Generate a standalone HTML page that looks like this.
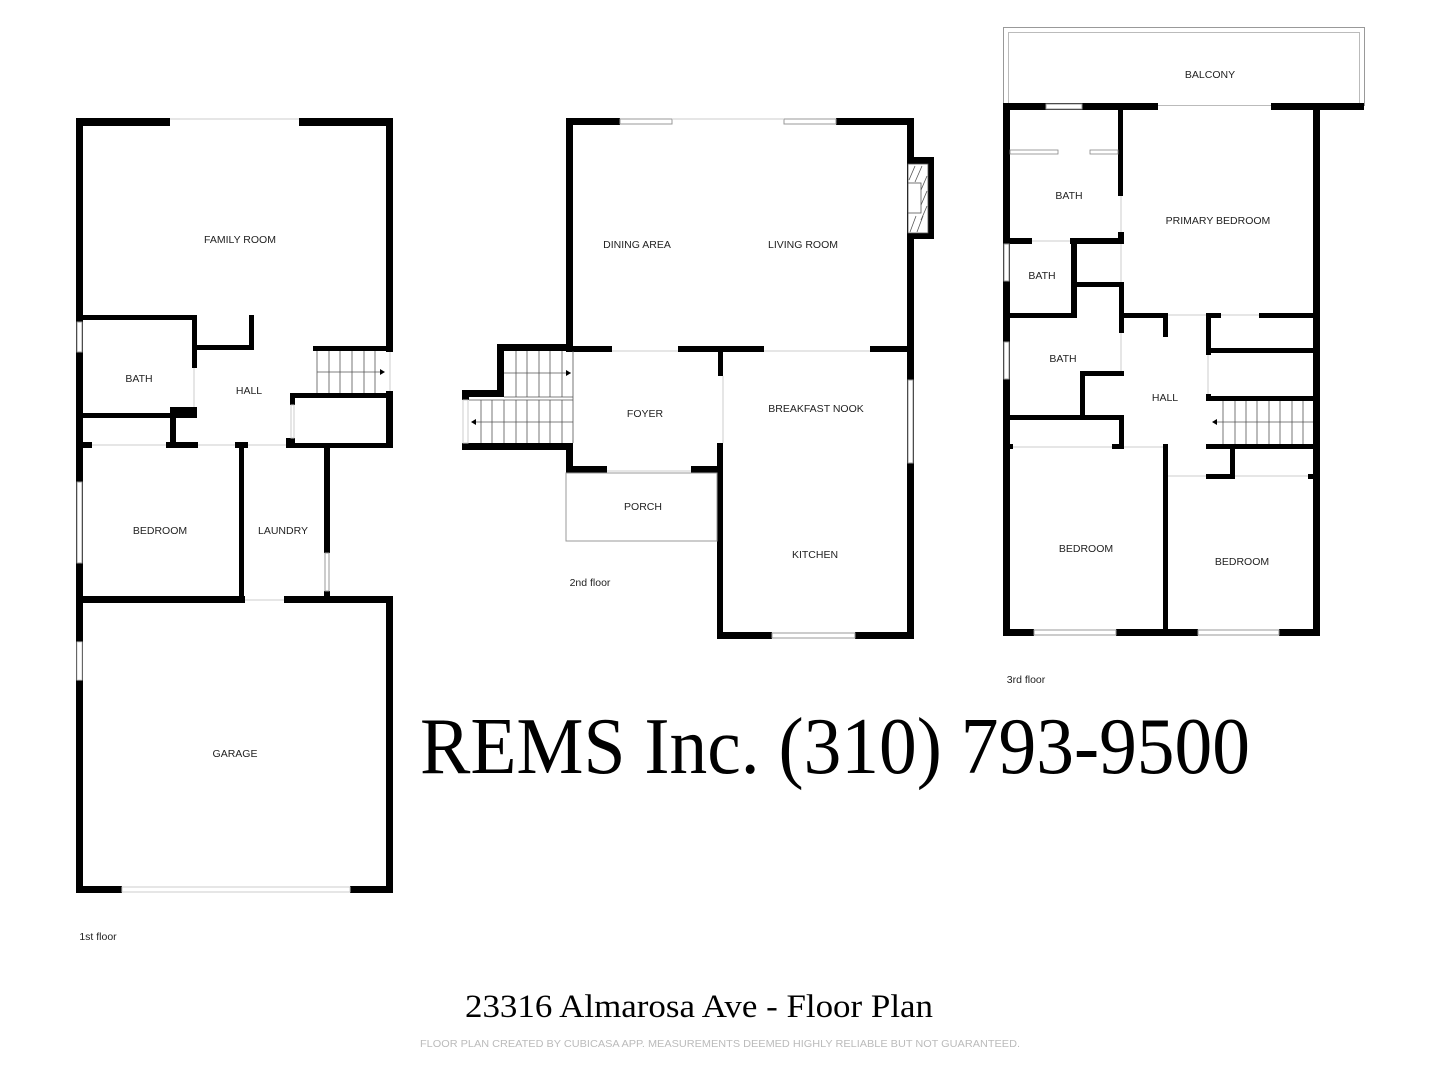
<!DOCTYPE html>
<html><head><meta charset="utf-8"><style>
html,body{margin:0;padding:0;background:#fff;}
svg{display:block;}
.l{font-family:"Liberation Sans",sans-serif;font-size:10.5px;fill:#222;text-anchor:middle;}
.w{fill:#000;}
.t{fill:none;stroke:#ccc;stroke-width:1;}
.win{fill:#fff;stroke:#999;stroke-width:1;}
.st{stroke:#555;stroke-width:0.8;}
</style></head><body>
<svg width="1440" height="1080" viewBox="0 0 1440 1080" xmlns="http://www.w3.org/2000/svg">
<!-- ========== FLOOR 1 ========== -->
<g class="w">
<rect x="76" y="118" width="94" height="8"/>
<rect x="299" y="118" width="94" height="8"/>
<rect x="76" y="118" width="7" height="775"/>
<rect x="386" y="118" width="7" height="234"/>
<rect x="386" y="391" width="7" height="57"/>
<rect x="76" y="315" width="121" height="5"/>
<rect x="192" y="315" width="5" height="53"/>
<rect x="170" y="407" width="27" height="11"/>
<rect x="197" y="345" width="57" height="5"/>
<rect x="249" y="315" width="5" height="35"/>
<rect x="313" y="346" width="80" height="5"/>
<rect x="290" y="393" width="103" height="5"/>
<rect x="290" y="393" width="5" height="12"/>
<rect x="286" y="438" width="9" height="10"/>
<rect x="286" y="443" width="107" height="5"/>
<rect x="76" y="413" width="99" height="5"/>
<rect x="170" y="413" width="6" height="30"/>
<rect x="76" y="442" width="16" height="6"/>
<rect x="166" y="442" width="32" height="6"/>
<rect x="235" y="442" width="13" height="6"/>
<rect x="239" y="443" width="5" height="157"/>
<rect x="324" y="443" width="6" height="110"/>
<rect x="324" y="591" width="6" height="9"/>
<rect x="76" y="596" width="169" height="7"/>
<rect x="284" y="596" width="109" height="7"/>
<rect x="386" y="596" width="7" height="297"/>
<rect x="76" y="886" width="46" height="7"/>
<rect x="350" y="886" width="43" height="7"/>
</g>
<g>
<line x1="170" y1="119" x2="299" y2="119" class="t"/>
<rect x="77" y="322" width="5" height="30" class="win"/>
<rect x="77" y="482" width="5" height="81" class="win"/>
<rect x="325" y="553" width="4" height="38" class="win"/>
<rect x="77" y="642" width="5" height="38" fill="#fff" stroke="#ccc"/>
<rect x="122" y="887" width="228" height="5" fill="#fff" stroke="#ccc"/>
<line x1="245" y1="600" x2="284" y2="600" class="t"/>
<line x1="194" y1="368" x2="194" y2="407" class="t"/>
<line x1="92" y1="445" x2="166" y2="445" class="t"/>
<line x1="198" y1="445" x2="235" y2="445" class="t"/>
<line x1="248" y1="445" x2="286" y2="445" class="t"/>
<rect x="291" y="405" width="3" height="33" fill="#fff" stroke="#ccc"/>
<line x1="390" y1="352" x2="390" y2="391" stroke="#ccc"/>
<!-- stairs 1 -->
<g class="st">
<line x1="317" y1="351" x2="317" y2="393"/><line x1="329" y1="351" x2="329" y2="393"/><line x1="340" y1="351" x2="340" y2="393"/><line x1="352" y1="351" x2="352" y2="393"/><line x1="364" y1="351" x2="364" y2="393"/><line x1="375" y1="351" x2="375" y2="393"/>
<line x1="317" y1="372" x2="384" y2="372"/>
</g>
<polygon points="380,369 385,372 380,375" fill="#000"/>
</g>
<text class="l" x="240" y="243">FAMILY ROOM</text>
<text class="l" x="139" y="382">BATH</text>
<text class="l" x="249" y="394">HALL</text>
<text class="l" x="160" y="534">BEDROOM</text>
<text class="l" x="283" y="534">LAUNDRY</text>
<text class="l" x="235" y="757">GARAGE</text>
<text class="l" x="98" y="940">1st floor</text>

<!-- ========== FLOOR 2 ========== -->
<g class="w">
<rect x="566" y="118" width="54" height="7"/>
<rect x="836" y="118" width="78" height="7"/>
<rect x="907" y="118" width="7" height="521"/>
<rect x="907" y="157" width="27" height="7"/>
<rect x="928" y="157" width="6" height="82"/>
<rect x="907" y="233" width="27" height="6"/>
<rect x="717" y="632" width="55" height="7"/>
<rect x="855" y="632" width="59" height="7"/>
<rect x="566" y="118" width="7" height="233"/>
<rect x="566" y="346" width="46" height="6"/>
<rect x="678" y="346" width="86" height="6"/>
<rect x="870" y="346" width="44" height="6"/>
<rect x="718" y="352" width="5" height="24"/>
<rect x="717" y="443" width="6" height="196"/>
<rect x="566" y="466" width="41" height="7"/>
<rect x="691" y="466" width="32" height="7"/>
<rect x="566" y="443" width="7" height="30"/>
<rect x="497" y="344" width="76" height="7"/>
<rect x="497" y="344" width="7" height="53"/>
<rect x="462" y="390" width="42" height="7"/>
<rect x="462" y="390" width="7" height="10"/>
<rect x="462" y="443" width="111" height="7"/>
<rect x="462" y="448" width="7" height="2"/>
</g>
<g>
<rect x="620" y="119" width="52" height="5" class="win"/>
<rect x="784" y="119" width="52" height="5" class="win"/>
<line x1="672" y1="119" x2="784" y2="119" class="t"/>
<rect x="908" y="380" width="5" height="83" class="win"/>
<rect x="772" y="633" width="83" height="5" class="win"/>
<line x1="612" y1="351" x2="678" y2="351" class="t"/>
<line x1="764" y1="351" x2="870" y2="351" class="t"/>
<line x1="723" y1="376" x2="723" y2="443" class="t"/>
<line x1="607" y1="471" x2="691" y2="471" class="t"/>
<rect x="566" y="473" width="151" height="68" fill="none" stroke="#999" stroke-width="1"/>
<rect x="463" y="400" width="5" height="43" fill="#fff" stroke="#ccc"/>
<!-- fireplace -->
<rect x="908" y="164" width="20" height="69" fill="#fff" stroke="#555" stroke-width="0.8"/>
<rect x="908" y="183" width="13" height="30" fill="#fff" stroke="#555" stroke-width="0.8"/>
<g stroke="#555" stroke-width="0.8">
<line x1="909" y1="180" x2="915" y2="166"/><line x1="915" y1="182" x2="922" y2="166"/><line x1="921" y1="190" x2="927" y2="176"/><line x1="921" y1="205" x2="927" y2="191"/><line x1="921" y1="220" x2="927" y2="206"/><line x1="910" y1="232" x2="916" y2="216"/><line x1="917" y1="232" x2="923" y2="216"/>
</g>
<!-- stairs 2 -->
<g class="st">
<line x1="516" y1="351" x2="516" y2="397"/><line x1="527" y1="351" x2="527" y2="397"/><line x1="539" y1="351" x2="539" y2="397"/><line x1="550" y1="351" x2="550" y2="397"/><line x1="562" y1="351" x2="562" y2="397"/><line x1="573" y1="351" x2="573" y2="443"/>
<line x1="504" y1="373" x2="571" y2="373"/>
<line x1="504" y1="397" x2="573" y2="397"/><line x1="469" y1="400" x2="573" y2="400"/>
<line x1="481" y1="400" x2="481" y2="443"/><line x1="492" y1="400" x2="492" y2="443"/><line x1="504" y1="400" x2="504" y2="443"/><line x1="516" y1="400" x2="516" y2="443"/><line x1="527" y1="400" x2="527" y2="443"/><line x1="539" y1="400" x2="539" y2="443"/><line x1="550" y1="400" x2="550" y2="443"/><line x1="562" y1="400" x2="562" y2="443"/>
<line x1="472" y1="422" x2="573" y2="422"/>
</g>
<polygon points="566,370 571,373 566,376" fill="#000"/>
<polygon points="476,419 471,422 476,425" fill="#000"/>
</g>
<text class="l" x="637" y="248">DINING AREA</text>
<text class="l" x="803" y="248">LIVING ROOM</text>
<text class="l" x="645" y="417">FOYER</text>
<text class="l" x="816" y="412">BREAKFAST NOOK</text>
<text class="l" x="643" y="510">PORCH</text>
<text class="l" x="815" y="558">KITCHEN</text>
<text class="l" x="590" y="586">2nd floor</text>

<!-- ========== FLOOR 3 ========== -->
<rect x="1003.5" y="27.5" width="361" height="78" fill="none" stroke="#999"/>
<rect x="1008.5" y="32.5" width="351" height="73" fill="none" stroke="#bbb"/>
<g class="w">
<rect x="1003" y="103" width="155" height="7"/>
<rect x="1271" y="103" width="93" height="7"/>
<rect x="1003" y="103" width="7" height="533"/>
<rect x="1313" y="103" width="7" height="533"/>
<rect x="1003" y="629" width="31" height="7"/>
<rect x="1116" y="629" width="82" height="7"/>
<rect x="1279" y="629" width="41" height="7"/>
<rect x="1118" y="103" width="5" height="93"/>
<rect x="1118" y="232" width="6" height="12"/>
<rect x="1003" y="238" width="29" height="6"/>
<rect x="1070" y="238" width="54" height="6"/>
<rect x="1071" y="238" width="6" height="80"/>
<rect x="1071" y="282" width="53" height="5"/>
<rect x="1003" y="313" width="74" height="5"/>
<rect x="1119" y="282" width="5" height="51"/>
<rect x="1119" y="313" width="48" height="5"/>
<rect x="1163" y="313" width="5" height="24"/>
<rect x="1080" y="371" width="44" height="5"/>
<rect x="1080" y="371" width="5" height="44"/>
<rect x="1003" y="415" width="121" height="5"/>
<rect x="1119" y="415" width="5" height="33"/>
<rect x="1003" y="444" width="10" height="5"/>
<rect x="1112" y="444" width="12" height="5"/>
<rect x="1163" y="444" width="5" height="192"/>
<rect x="1206" y="313" width="5" height="42"/>
<rect x="1206" y="313" width="15" height="5"/>
<rect x="1259" y="313" width="61" height="5"/>
<rect x="1206" y="348" width="114" height="5"/>
<rect x="1206" y="394" width="5" height="7"/>
<rect x="1206" y="396" width="114" height="5"/>
<rect x="1206" y="444" width="114" height="5"/>
<rect x="1230" y="444" width="5" height="34"/>
<rect x="1206" y="474" width="29" height="5"/>
<rect x="1308" y="474" width="12" height="5"/>
</g>
<g>
<rect x="1046" y="104" width="36" height="5" class="win"/>
<rect x="1004" y="244" width="5" height="37" class="win"/>
<rect x="1004" y="342" width="5" height="37" class="win"/>
<rect x="1034" y="630" width="82" height="5" class="win"/>
<rect x="1198" y="630" width="81" height="5" class="win"/>
<rect x="1010" y="150" width="48" height="4" fill="#fff" stroke="#888" stroke-width="0.8"/>
<rect x="1090" y="150" width="28" height="4" fill="#fff" stroke="#888" stroke-width="0.8"/>
<line x1="1121" y1="196" x2="1121" y2="232" class="t"/>
<line x1="1121" y1="244" x2="1121" y2="282" class="t"/>
<line x1="1121" y1="333" x2="1121" y2="371" class="t"/>
<line x1="1032" y1="241" x2="1070" y2="241" class="t"/>
<line x1="1013" y1="447" x2="1112" y2="447" class="t"/>
<line x1="1124" y1="447" x2="1163" y2="447" class="t"/>
<line x1="1168" y1="315" x2="1206" y2="315" class="t"/>
<line x1="1221" y1="315" x2="1259" y2="315" class="t"/>
<line x1="1208" y1="355" x2="1208" y2="394" class="t"/>
<line x1="1168" y1="476" x2="1206" y2="476" class="t"/>
<line x1="1235" y1="476" x2="1308" y2="476" class="t"/>
<g class="st">
<line x1="1223" y1="401" x2="1223" y2="444"/><line x1="1235" y1="401" x2="1235" y2="444"/><line x1="1246" y1="401" x2="1246" y2="444"/><line x1="1257" y1="401" x2="1257" y2="444"/><line x1="1269" y1="401" x2="1269" y2="444"/><line x1="1280" y1="401" x2="1280" y2="444"/><line x1="1292" y1="401" x2="1292" y2="444"/><line x1="1303" y1="401" x2="1303" y2="444"/>
<line x1="1216" y1="422" x2="1313" y2="422"/>
</g>
<polygon points="1217,419 1212,422 1217,425" fill="#000"/>
</g>
<text class="l" x="1210" y="78">BALCONY</text>
<text class="l" x="1069" y="199">BATH</text>
<text class="l" x="1218" y="224">PRIMARY BEDROOM</text>
<text class="l" x="1042" y="279">BATH</text>
<text class="l" x="1063" y="362">BATH</text>
<text class="l" x="1165" y="401">HALL</text>
<text class="l" x="1086" y="552">BEDROOM</text>
<text class="l" x="1242" y="565">BEDROOM</text>
<text class="l" x="1026" y="683">3rd floor</text>

<!-- ========== TEXT ========== -->
<text x="420" y="773" font-family="Liberation Serif, serif" font-size="80" fill="#000" textLength="830" lengthAdjust="spacingAndGlyphs">REMS Inc. (310) 793-9500</text>
<text x="465" y="1017" font-family="Liberation Serif, serif" font-size="33" fill="#000" textLength="468" lengthAdjust="spacingAndGlyphs">23316 Almarosa Ave - Floor Plan</text>
<text x="420" y="1047" font-family="Liberation Sans, sans-serif" font-size="10.5" fill="#bbb" textLength="600" lengthAdjust="spacingAndGlyphs">FLOOR PLAN CREATED BY CUBICASA APP. MEASUREMENTS DEEMED HIGHLY RELIABLE BUT NOT GUARANTEED.</text>
</svg>
</body></html>
